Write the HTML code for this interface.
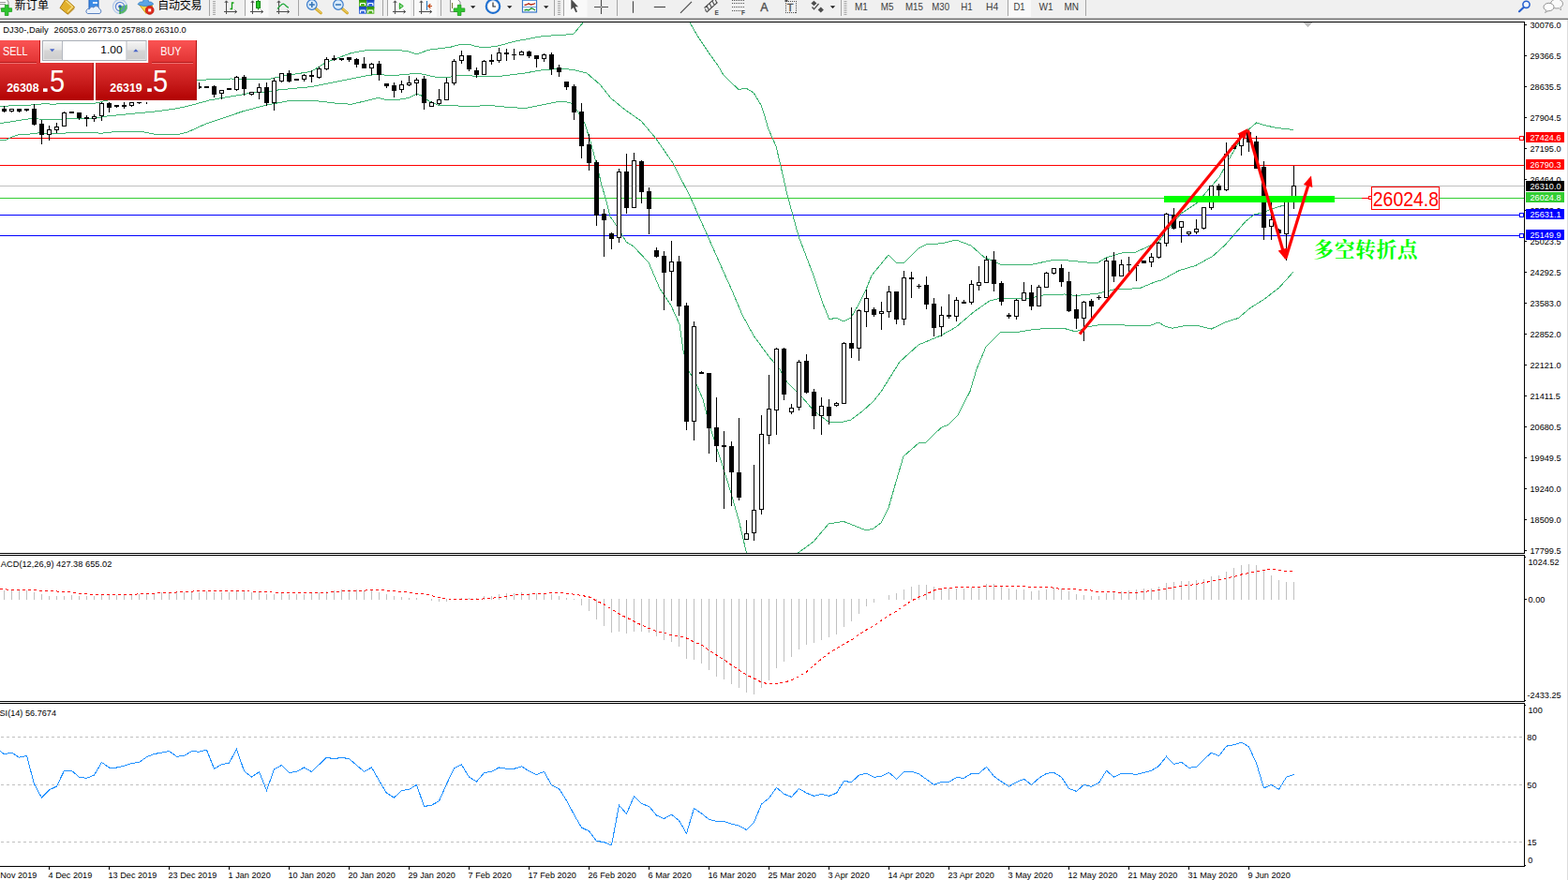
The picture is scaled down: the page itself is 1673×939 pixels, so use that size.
<!DOCTYPE html>
<html><head><meta charset="utf-8"><title>DJ30 Daily</title>
<style>
html,body{margin:0;padding:0;background:#fff;}
body{width:1673px;height:939px;overflow:hidden;font-family:"Liberation Sans",sans-serif;}
svg{display:block;position:absolute;left:0;top:0;}
</style></head><body>
<svg width="1673" height="939" viewBox="0 0 1673 939" font-family="Liberation Sans, sans-serif">
<defs>
<linearGradient id="gr" gradientUnits="userSpaceOnUse" x1="0" y1="43" x2="0" y2="107">
<stop offset="0" stop-color="#fb5454"/><stop offset="0.36" stop-color="#e23434"/><stop offset="0.7" stop-color="#c81c1c"/><stop offset="1" stop-color="#b20202"/></linearGradient>
<linearGradient id="gb" x1="0" y1="0" x2="0" y2="1"><stop offset="0" stop-color="#f4f4f4"/><stop offset="0.45" stop-color="#e4e4e4"/><stop offset="0.5" stop-color="#d6d6d6"/><stop offset="1" stop-color="#cdcdcd"/></linearGradient>
<clipPath id="ct"><rect x="0" y="0" width="1673" height="19"/></clipPath>
<clipPath id="cm"><rect x="0" y="24" width="1626" height="566"/></clipPath>
</defs>
<rect x="0" y="0" width="1673" height="939" fill="#fff" />
<rect x="0" y="0" width="1673" height="19" fill="#f0f0f0" />
<rect x="0" y="19" width="1673" height="1" fill="#b9b9b9" />
<rect x="0" y="20" width="1673" height="1" fill="#6d6d6d" />
<rect x="1672" y="21" width="1" height="918" fill="#dcdcdc" />
<g shape-rendering="crispEdges">
<rect x="0" y="23" width="1627" height="1" fill="#000" />
<rect x="0" y="590" width="1627" height="1" fill="#000" />
<rect x="0" y="592" width="1627" height="1" fill="#000" />
<rect x="0" y="748" width="1627" height="1" fill="#000" />
<rect x="0" y="750" width="1627" height="1" fill="#000" />
<rect x="0" y="924" width="1627" height="1" fill="#000" />
<rect x="1626" y="23" width="1" height="568" fill="#000" />
<rect x="1626" y="592" width="1" height="157" fill="#000" />
<rect x="1626" y="750" width="1" height="175" fill="#000" />
<rect x="1627" y="26" width="2" height="1" fill="#000" />
<rect x="1627" y="59" width="2" height="1" fill="#000" />
<rect x="1627" y="92" width="2" height="1" fill="#000" />
<rect x="1627" y="125" width="2" height="1" fill="#000" />
<rect x="1627" y="158" width="2" height="1" fill="#000" />
<rect x="1627" y="191" width="2" height="1" fill="#000" />
<rect x="1627" y="224" width="2" height="1" fill="#000" />
<rect x="1627" y="257" width="2" height="1" fill="#000" />
<rect x="1627" y="290" width="2" height="1" fill="#000" />
<rect x="1627" y="323" width="2" height="1" fill="#000" />
<rect x="1627" y="356" width="2" height="1" fill="#000" />
<rect x="1627" y="389" width="2" height="1" fill="#000" />
<rect x="1627" y="422" width="2" height="1" fill="#000" />
<rect x="1627" y="455" width="2" height="1" fill="#000" />
<rect x="1627" y="488" width="2" height="1" fill="#000" />
<rect x="1627" y="521" width="2" height="1" fill="#000" />
<rect x="1627" y="554" width="2" height="1" fill="#000" />
<rect x="1627" y="587" width="2" height="1" fill="#000" />
<rect x="1627" y="639" width="2" height="1" fill="#000" />
<rect x="1627" y="594" width="1" height="1" fill="#000" />
<rect x="1627" y="747" width="1" height="1" fill="#000" />
<rect x="1627" y="752" width="1" height="1" fill="#000" />
<rect x="1627" y="923" width="1" height="1" fill="#000" />
<rect x="52" y="925" width="1" height="3" fill="#000" />
<rect x="116" y="925" width="1" height="3" fill="#000" />
<rect x="180" y="925" width="1" height="3" fill="#000" />
<rect x="244" y="925" width="1" height="3" fill="#000" />
<rect x="308" y="925" width="1" height="3" fill="#000" />
<rect x="372" y="925" width="1" height="3" fill="#000" />
<rect x="436" y="925" width="1" height="3" fill="#000" />
<rect x="500" y="925" width="1" height="3" fill="#000" />
<rect x="564" y="925" width="1" height="3" fill="#000" />
<rect x="628" y="925" width="1" height="3" fill="#000" />
<rect x="692" y="925" width="1" height="3" fill="#000" />
<rect x="756" y="925" width="1" height="3" fill="#000" />
<rect x="820" y="925" width="1" height="3" fill="#000" />
<rect x="884" y="925" width="1" height="3" fill="#000" />
<rect x="948" y="925" width="1" height="3" fill="#000" />
<rect x="1012" y="925" width="1" height="3" fill="#000" />
<rect x="1076" y="925" width="1" height="3" fill="#000" />
<rect x="1140" y="925" width="1" height="3" fill="#000" />
<rect x="1204" y="925" width="1" height="3" fill="#000" />
<rect x="1268" y="925" width="1" height="3" fill="#000" />
<rect x="1332" y="925" width="1" height="3" fill="#000" />
</g>
<g shape-rendering="crispEdges">
<rect x="0" y="147" width="1626" height="1" fill="#ff0000" />
<rect x="0" y="176" width="1626" height="1" fill="#ff0000" />
<rect x="0" y="198" width="1626" height="1" fill="#c0c0c0" />
<rect x="0" y="211" width="1626" height="1" fill="#32cd32" />
<rect x="0" y="229" width="1626" height="1" fill="#0000ff" />
<rect x="0" y="251" width="1626" height="1" fill="#0000ff" />
<line x1="1" y1="786.5" x2="1626" y2="786.5" stroke="#c0c0c0" stroke-width="1" stroke-dasharray="3 3"/>
<line x1="1" y1="837.5" x2="1626" y2="837.5" stroke="#c0c0c0" stroke-width="1" stroke-dasharray="3 3"/>
<line x1="1" y1="898.5" x2="1626" y2="898.5" stroke="#c0c0c0" stroke-width="1" stroke-dasharray="3 3"/>
</g>
<polygon points="1391,24 1400,24 1395.5,28.6" fill="#c0c0c0" shape-rendering="crispEdges"/>
<g clip-path="url(#cm)" shape-rendering="crispEdges">
<polyline points="0.0,113.4 36.0,111.9 48.0,110.5 57.0,111.4 65.0,110.4 100.0,110.4 106.0,109.4 110.0,108.0 130.0,104.0 160.0,97.0 190.0,90.0 210.0,85.4 246.0,84.0 287.0,84.5 302.0,81.0 332.0,76.4 348.4,66.2 360.0,62.0 375.0,56.5 392.5,53.4 425.0,53.4 437.0,55.2 444.3,58.0 457.6,53.2 480.0,50.4 491.0,47.5 502.0,47.5 508.4,49.9 520.6,50.4 530.0,49.3 550.0,44.0 580.0,38.4 600.0,37.4 612.0,36.2 623.0,23.0" fill="none" stroke="#3cb371" stroke-width="1" />
<polyline points="735.5,23.0 744.0,38.0 756.0,56.0 766.0,70.0 772.0,80.0 788.0,95.6 796.0,94.0 804.0,99.0 812.0,112.0 816.0,124.0 820.0,138.0 828.0,156.0 833.0,177.0 840.0,208.0 852.0,252.0 868.0,294.0 878.0,324.0 885.0,341.0 892.0,339.0 900.0,343.0 908.0,339.0 916.0,325.0 924.0,309.0 930.0,294.0 948.0,272.0 956.0,280.0 964.0,281.0 980.0,265.0 988.0,261.0 1006.0,259.6 1020.0,256.0 1036.0,262.0 1050.0,274.4 1068.0,282.4 1100.0,282.4 1124.0,277.4 1140.0,278.0 1160.0,280.0 1172.0,280.0 1180.0,275.0 1200.0,269.0 1212.0,269.0 1236.0,258.0 1260.0,228.0 1278.0,216.0 1289.0,202.5 1301.0,189.0 1311.0,170.4 1318.0,158.5 1328.0,142.0 1340.5,131.0 1347.0,133.0 1361.5,136.4 1380.0,138.5" fill="none" stroke="#3cb371" stroke-width="1" />
<polyline points="0.0,131.7 33.5,126.4 41.0,127.0 65.0,127.6 73.0,126.2 101.6,126.2 112.0,124.2 170.0,118.5 190.0,115.5 200.0,113.4 224.0,106.8 271.0,98.7 287.0,97.7 295.5,96.1 332.0,92.6 360.0,87.0 393.5,80.3 404.7,79.3 417.0,80.9 441.0,78.6 448.4,78.6 465.7,82.4 477.0,82.7 489.0,80.6 502.0,80.6 507.4,81.7 530.0,81.7 560.0,78.0 580.0,74.4 600.0,73.4 612.0,74.4 626.0,78.0 640.0,90.0 652.0,105.0 668.0,118.0 684.0,129.0 700.0,148.0 718.0,174.0 724.0,186.0 736.0,209.0 756.0,254.0 772.0,290.0 781.0,310.0 792.0,336.0 804.0,358.0 820.0,380.0 832.0,394.0 840.0,408.0 856.0,424.0 868.0,438.0 884.0,450.0 900.0,450.0 908.0,448.0 920.0,439.0 932.0,428.0 940.0,418.0 960.0,386.0 980.0,368.0 1004.0,358.0 1020.0,349.0 1040.0,332.0 1056.0,321.0 1068.0,318.0 1100.0,318.0 1116.0,314.4 1136.0,314.0 1148.0,315.6 1172.0,313.0 1188.0,309.0 1216.0,307.6 1232.0,301.0 1240.0,298.6 1258.0,288.7 1276.0,283.3 1294.0,273.3 1307.0,261.5 1318.0,249.0 1329.0,236.2 1338.0,229.0 1347.0,227.0 1357.6,222.6 1370.0,219.0 1376.0,215.6 1380.0,214.5" fill="none" stroke="#3cb371" stroke-width="1" />
<polyline points="0.0,150.0 6.0,149.5 12.0,146.4 19.3,143.9 33.5,142.9 40.6,141.9 65.0,142.9 73.0,141.4 101.6,141.4 106.7,142.4 120.0,140.9 152.4,140.6 162.6,142.9 180.0,144.0 190.0,143.6 200.0,141.0 220.0,132.0 260.0,118.5 285.4,111.9 306.7,107.9 321.0,107.4 337.0,107.7 360.0,110.3 375.0,111.3 403.7,104.4 412.8,106.8 423.0,106.8 437.0,104.2 444.3,100.4 448.4,101.2 457.6,107.8 468.7,112.6 487.0,112.6 492.0,113.6 509.4,113.6 514.5,112.6 526.7,112.6 530.0,113.4 560.0,115.6 580.0,111.6 596.0,108.4 604.0,108.6 610.0,110.4 616.0,118.0 624.0,132.0 630.0,151.0 635.0,170.0 638.0,181.0 642.0,198.0 646.0,211.0 651.0,231.0 660.0,244.0 668.0,258.0 676.0,263.0 692.0,280.0 704.0,308.0 716.0,326.0 725.0,346.0 729.0,374.0 735.0,396.0 743.0,410.0 750.0,426.0 758.0,457.0 770.0,494.0 780.0,526.0 788.0,554.0 796.5,590.0" fill="none" stroke="#3cb371" stroke-width="1" />
<polyline points="851.5,590.0 868.0,578.0 884.0,559.0 900.0,556.4 912.0,561.0 924.0,566.0 932.0,564.0 940.0,558.0 948.0,542.0 956.0,514.0 964.0,487.0 980.0,473.0 988.0,472.0 1004.0,456.4 1012.0,453.0 1022.0,443.0 1035.0,417.5 1042.0,394.0 1052.0,370.0 1068.0,354.0 1082.0,355.0 1100.0,352.0 1120.0,350.0 1134.0,350.0 1148.0,354.0 1160.0,349.0 1176.0,346.0 1200.0,347.0 1228.0,347.0 1236.0,344.0 1244.0,348.5 1251.0,350.2 1265.0,347.5 1278.0,347.5 1292.5,351.0 1307.0,344.0 1321.4,339.4 1334.0,328.5 1348.6,319.5 1365.0,306.8 1380.0,290.0" fill="none" stroke="#3cb371" stroke-width="1" />
</g>
<g shape-rendering="crispEdges">
<rect x="4" y="113" width="1" height="7" fill="#000" />
<rect x="2" y="116" width="5" height="3" fill="#000" />
<rect x="12" y="116" width="1" height="4" fill="#000" />
<rect x="10" y="116" width="5" height="3" fill="#000" />
<rect x="11" y="117" width="3" height="1" fill="#fff" />
<rect x="20" y="116" width="1" height="4" fill="#000" />
<rect x="18" y="116" width="5" height="3" fill="#000" />
<rect x="28" y="116" width="1" height="3" fill="#000" />
<rect x="26" y="116" width="5" height="2" fill="#000" />
<rect x="36" y="111" width="1" height="23" fill="#000" />
<rect x="34" y="116" width="5" height="17" fill="#000" />
<rect x="44" y="128" width="1" height="26" fill="#000" />
<rect x="42" y="132" width="5" height="12" fill="#000" />
<rect x="52" y="134" width="1" height="16" fill="#000" />
<rect x="50" y="138" width="5" height="6" fill="#000" />
<rect x="51" y="139" width="3" height="4" fill="#fff" />
<rect x="60" y="131" width="1" height="11" fill="#000" />
<rect x="58" y="135" width="5" height="4" fill="#000" />
<rect x="59" y="136" width="3" height="2" fill="#fff" />
<rect x="68" y="119" width="1" height="16" fill="#000" />
<rect x="66" y="120" width="5" height="15" fill="#000" />
<rect x="67" y="121" width="3" height="13" fill="#fff" />
<rect x="76" y="119" width="1" height="2" fill="#000" />
<rect x="74" y="119" width="5" height="2" fill="#000" />
<rect x="84" y="120" width="1" height="8" fill="#000" />
<rect x="82" y="120" width="5" height="6" fill="#000" />
<rect x="92" y="123" width="1" height="12" fill="#000" />
<rect x="90" y="125" width="5" height="2" fill="#000" />
<rect x="100" y="122" width="1" height="8" fill="#000" />
<rect x="98" y="124" width="5" height="3" fill="#000" />
<rect x="99" y="125" width="3" height="1" fill="#fff" />
<rect x="108" y="109" width="1" height="20" fill="#000" />
<rect x="106" y="110" width="5" height="14" fill="#000" />
<rect x="107" y="111" width="3" height="12" fill="#fff" />
<rect x="116" y="109" width="1" height="11" fill="#000" />
<rect x="114" y="110" width="5" height="5" fill="#000" />
<rect x="124" y="112" width="1" height="3" fill="#000" />
<rect x="122" y="112" width="5" height="2" fill="#000" />
<rect x="132" y="109" width="1" height="7" fill="#000" />
<rect x="130" y="112" width="5" height="2" fill="#000" />
<rect x="140" y="109" width="1" height="5" fill="#000" />
<rect x="138" y="109" width="5" height="4" fill="#000" />
<rect x="139" y="110" width="3" height="2" fill="#fff" />
<rect x="148" y="109" width="1" height="2" fill="#000" />
<rect x="146" y="109" width="5" height="1" fill="#000" />
<rect x="156" y="109" width="1" height="2" fill="#000" />
<rect x="212" y="88" width="1" height="7" fill="#000" />
<rect x="212" y="92" width="3" height="2" fill="#000" />
<rect x="220" y="92" width="1" height="2" fill="#000" />
<rect x="218" y="92" width="5" height="2" fill="#000" />
<rect x="228" y="91" width="1" height="13" fill="#000" />
<rect x="226" y="92" width="5" height="9" fill="#000" />
<rect x="236" y="96" width="1" height="10" fill="#000" />
<rect x="234" y="96" width="5" height="4" fill="#000" />
<rect x="235" y="97" width="3" height="2" fill="#fff" />
<rect x="244" y="94" width="1" height="2" fill="#000" />
<rect x="242" y="94" width="5" height="2" fill="#000" />
<rect x="252" y="81" width="1" height="16" fill="#000" />
<rect x="250" y="82" width="5" height="14" fill="#000" />
<rect x="251" y="83" width="3" height="12" fill="#fff" />
<rect x="260" y="80" width="1" height="22" fill="#000" />
<rect x="258" y="82" width="5" height="13" fill="#000" />
<rect x="268" y="98" width="1" height="4" fill="#000" />
<rect x="266" y="98" width="5" height="3" fill="#000" />
<rect x="267" y="99" width="3" height="1" fill="#fff" />
<rect x="276" y="89" width="1" height="17" fill="#000" />
<rect x="274" y="93" width="5" height="6" fill="#000" />
<rect x="275" y="94" width="3" height="4" fill="#fff" />
<rect x="284" y="88" width="1" height="25" fill="#000" />
<rect x="282" y="93" width="5" height="17" fill="#000" />
<rect x="292" y="83" width="1" height="35" fill="#000" />
<rect x="290" y="86" width="5" height="24" fill="#000" />
<rect x="291" y="87" width="3" height="22" fill="#fff" />
<rect x="300" y="78" width="1" height="10" fill="#000" />
<rect x="298" y="78" width="5" height="9" fill="#000" />
<rect x="299" y="79" width="3" height="7" fill="#fff" />
<rect x="308" y="75" width="1" height="13" fill="#000" />
<rect x="306" y="78" width="5" height="9" fill="#000" />
<rect x="316" y="84" width="1" height="2" fill="#000" />
<rect x="314" y="84" width="5" height="2" fill="#000" />
<rect x="324" y="79" width="1" height="8" fill="#000" />
<rect x="322" y="80" width="5" height="5" fill="#000" />
<rect x="323" y="81" width="3" height="3" fill="#fff" />
<rect x="332" y="75" width="1" height="13" fill="#000" />
<rect x="330" y="80" width="5" height="2" fill="#000" />
<rect x="340" y="71" width="1" height="13" fill="#000" />
<rect x="338" y="73" width="5" height="10" fill="#000" />
<rect x="339" y="74" width="3" height="8" fill="#fff" />
<rect x="348" y="61" width="1" height="14" fill="#000" />
<rect x="346" y="63" width="5" height="11" fill="#000" />
<rect x="347" y="64" width="3" height="9" fill="#fff" />
<rect x="356" y="59" width="1" height="6" fill="#000" />
<rect x="354" y="62" width="5" height="2" fill="#000" />
<rect x="364" y="62" width="1" height="3" fill="#000" />
<rect x="362" y="62" width="5" height="2" fill="#000" />
<rect x="372" y="61" width="1" height="5" fill="#000" />
<rect x="370" y="61" width="5" height="3" fill="#000" />
<rect x="380" y="62" width="1" height="10" fill="#000" />
<rect x="378" y="63" width="5" height="6" fill="#000" />
<rect x="388" y="61" width="1" height="12" fill="#000" />
<rect x="386" y="68" width="5" height="5" fill="#000" />
<rect x="396" y="67" width="1" height="13" fill="#000" />
<rect x="394" y="68" width="5" height="5" fill="#000" />
<rect x="395" y="69" width="3" height="3" fill="#fff" />
<rect x="404" y="65" width="1" height="21" fill="#000" />
<rect x="402" y="68" width="5" height="12" fill="#000" />
<rect x="412" y="89" width="1" height="5" fill="#000" />
<rect x="410" y="89" width="5" height="3" fill="#000" />
<rect x="420" y="88" width="1" height="16" fill="#000" />
<rect x="418" y="91" width="5" height="6" fill="#000" />
<rect x="428" y="86" width="1" height="13" fill="#000" />
<rect x="426" y="90" width="5" height="6" fill="#000" />
<rect x="427" y="91" width="3" height="4" fill="#fff" />
<rect x="436" y="81" width="1" height="11" fill="#000" />
<rect x="434" y="88" width="5" height="3" fill="#000" />
<rect x="435" y="89" width="3" height="1" fill="#fff" />
<rect x="444" y="83" width="1" height="19" fill="#000" />
<rect x="442" y="85" width="5" height="4" fill="#000" />
<rect x="443" y="86" width="3" height="2" fill="#fff" />
<rect x="452" y="81" width="1" height="36" fill="#000" />
<rect x="450" y="84" width="5" height="26" fill="#000" />
<rect x="460" y="108" width="1" height="6" fill="#000" />
<rect x="458" y="109" width="5" height="5" fill="#000" />
<rect x="459" y="110" width="3" height="3" fill="#fff" />
<rect x="468" y="95" width="1" height="17" fill="#000" />
<rect x="466" y="106" width="5" height="5" fill="#000" />
<rect x="467" y="107" width="3" height="3" fill="#fff" />
<rect x="476" y="83" width="1" height="24" fill="#000" />
<rect x="474" y="88" width="5" height="19" fill="#000" />
<rect x="475" y="89" width="3" height="17" fill="#fff" />
<rect x="484" y="63" width="1" height="28" fill="#000" />
<rect x="482" y="65" width="5" height="24" fill="#000" />
<rect x="483" y="66" width="3" height="22" fill="#fff" />
<rect x="492" y="54" width="1" height="14" fill="#000" />
<rect x="490" y="59" width="5" height="6" fill="#000" />
<rect x="491" y="60" width="3" height="4" fill="#fff" />
<rect x="500" y="59" width="1" height="17" fill="#000" />
<rect x="498" y="59" width="5" height="15" fill="#000" />
<rect x="508" y="72" width="1" height="11" fill="#000" />
<rect x="506" y="75" width="5" height="5" fill="#000" />
<rect x="516" y="64" width="1" height="16" fill="#000" />
<rect x="514" y="65" width="5" height="15" fill="#000" />
<rect x="515" y="66" width="3" height="13" fill="#fff" />
<rect x="524" y="58" width="1" height="11" fill="#000" />
<rect x="522" y="64" width="5" height="2" fill="#000" />
<rect x="532" y="51" width="1" height="16" fill="#000" />
<rect x="530" y="56" width="5" height="9" fill="#000" />
<rect x="531" y="57" width="3" height="7" fill="#fff" />
<rect x="540" y="52" width="1" height="13" fill="#000" />
<rect x="538" y="56" width="5" height="2" fill="#000" />
<rect x="548" y="52" width="1" height="12" fill="#000" />
<rect x="546" y="58" width="5" height="1" fill="#000" />
<rect x="556" y="54" width="1" height="5" fill="#000" />
<rect x="554" y="55" width="5" height="4" fill="#000" />
<rect x="555" y="56" width="3" height="2" fill="#fff" />
<rect x="564" y="54" width="1" height="8" fill="#000" />
<rect x="562" y="55" width="5" height="5" fill="#000" />
<rect x="572" y="59" width="1" height="13" fill="#000" />
<rect x="570" y="59" width="5" height="4" fill="#000" />
<rect x="580" y="57" width="1" height="9" fill="#000" />
<rect x="578" y="58" width="5" height="5" fill="#000" />
<rect x="579" y="59" width="3" height="3" fill="#fff" />
<rect x="588" y="56" width="1" height="24" fill="#000" />
<rect x="586" y="58" width="5" height="16" fill="#000" />
<rect x="596" y="69" width="1" height="13" fill="#000" />
<rect x="594" y="72" width="5" height="5" fill="#000" />
<rect x="604" y="87" width="1" height="9" fill="#000" />
<rect x="602" y="87" width="5" height="6" fill="#000" />
<rect x="612" y="90" width="1" height="38" fill="#000" />
<rect x="610" y="92" width="5" height="28" fill="#000" />
<rect x="620" y="110" width="1" height="59" fill="#000" />
<rect x="618" y="119" width="5" height="37" fill="#000" />
<rect x="628" y="143" width="1" height="39" fill="#000" />
<rect x="626" y="154" width="5" height="20" fill="#000" />
<rect x="636" y="171" width="1" height="70" fill="#000" />
<rect x="634" y="173" width="5" height="57" fill="#000" />
<rect x="644" y="223" width="1" height="51" fill="#000" />
<rect x="642" y="228" width="5" height="7" fill="#000" />
<rect x="652" y="248" width="1" height="18" fill="#000" />
<rect x="650" y="249" width="5" height="6" fill="#000" />
<rect x="660" y="180" width="1" height="79" fill="#000" />
<rect x="658" y="183" width="5" height="71" fill="#000" />
<rect x="659" y="184" width="3" height="69" fill="#fff" />
<rect x="668" y="164" width="1" height="64" fill="#000" />
<rect x="666" y="183" width="5" height="39" fill="#000" />
<rect x="676" y="163" width="1" height="58" fill="#000" />
<rect x="674" y="171" width="5" height="51" fill="#000" />
<rect x="675" y="172" width="3" height="49" fill="#fff" />
<rect x="684" y="171" width="1" height="46" fill="#000" />
<rect x="682" y="172" width="5" height="33" fill="#000" />
<rect x="692" y="200" width="1" height="50" fill="#000" />
<rect x="690" y="204" width="5" height="19" fill="#000" />
<rect x="700" y="264" width="1" height="11" fill="#000" />
<rect x="698" y="267" width="5" height="7" fill="#000" />
<rect x="708" y="268" width="1" height="63" fill="#000" />
<rect x="706" y="273" width="5" height="18" fill="#000" />
<rect x="716" y="257" width="1" height="64" fill="#000" />
<rect x="714" y="279" width="5" height="11" fill="#000" />
<rect x="715" y="280" width="3" height="9" fill="#fff" />
<rect x="724" y="273" width="1" height="64" fill="#000" />
<rect x="722" y="279" width="5" height="48" fill="#000" />
<rect x="732" y="323" width="1" height="136" fill="#000" />
<rect x="730" y="326" width="5" height="124" fill="#000" />
<rect x="740" y="343" width="1" height="127" fill="#000" />
<rect x="738" y="348" width="5" height="102" fill="#000" />
<rect x="739" y="349" width="3" height="100" fill="#fff" />
<rect x="748" y="396" width="1" height="3" fill="#000" />
<rect x="746" y="397" width="5" height="2" fill="#000" />
<rect x="756" y="398" width="1" height="86" fill="#000" />
<rect x="754" y="398" width="5" height="59" fill="#000" />
<rect x="764" y="424" width="1" height="69" fill="#000" />
<rect x="762" y="456" width="5" height="20" fill="#000" />
<rect x="772" y="460" width="1" height="83" fill="#000" />
<rect x="770" y="475" width="5" height="2" fill="#000" />
<rect x="780" y="471" width="1" height="69" fill="#000" />
<rect x="778" y="476" width="5" height="28" fill="#000" />
<rect x="788" y="446" width="1" height="88" fill="#000" />
<rect x="786" y="504" width="5" height="27" fill="#000" />
<rect x="796" y="555" width="1" height="20" fill="#000" />
<rect x="794" y="569" width="5" height="7" fill="#000" />
<rect x="795" y="570" width="3" height="5" fill="#fff" />
<rect x="804" y="496" width="1" height="81" fill="#000" />
<rect x="802" y="544" width="5" height="25" fill="#000" />
<rect x="803" y="545" width="3" height="23" fill="#fff" />
<rect x="812" y="443" width="1" height="106" fill="#000" />
<rect x="810" y="463" width="5" height="81" fill="#000" />
<rect x="811" y="464" width="3" height="79" fill="#fff" />
<rect x="820" y="400" width="1" height="74" fill="#000" />
<rect x="818" y="436" width="5" height="29" fill="#000" />
<rect x="819" y="437" width="3" height="27" fill="#fff" />
<rect x="828" y="371" width="1" height="93" fill="#000" />
<rect x="826" y="372" width="5" height="66" fill="#000" />
<rect x="827" y="373" width="3" height="64" fill="#fff" />
<rect x="836" y="371" width="1" height="56" fill="#000" />
<rect x="834" y="372" width="5" height="49" fill="#000" />
<rect x="844" y="431" width="1" height="11" fill="#000" />
<rect x="842" y="435" width="5" height="5" fill="#000" />
<rect x="843" y="436" width="3" height="3" fill="#fff" />
<rect x="852" y="384" width="1" height="54" fill="#000" />
<rect x="850" y="386" width="5" height="49" fill="#000" />
<rect x="851" y="387" width="3" height="47" fill="#fff" />
<rect x="860" y="378" width="1" height="42" fill="#000" />
<rect x="858" y="385" width="5" height="34" fill="#000" />
<rect x="868" y="415" width="1" height="43" fill="#000" />
<rect x="866" y="418" width="5" height="26" fill="#000" />
<rect x="876" y="424" width="1" height="40" fill="#000" />
<rect x="874" y="433" width="5" height="11" fill="#000" />
<rect x="875" y="434" width="3" height="9" fill="#fff" />
<rect x="884" y="426" width="1" height="27" fill="#000" />
<rect x="882" y="434" width="5" height="10" fill="#000" />
<rect x="892" y="429" width="1" height="5" fill="#000" />
<rect x="890" y="430" width="5" height="3" fill="#000" />
<rect x="891" y="431" width="3" height="1" fill="#fff" />
<rect x="900" y="365" width="1" height="65" fill="#000" />
<rect x="898" y="366" width="5" height="65" fill="#000" />
<rect x="899" y="367" width="3" height="63" fill="#fff" />
<rect x="908" y="328" width="1" height="54" fill="#000" />
<rect x="906" y="366" width="5" height="6" fill="#000" />
<rect x="916" y="330" width="1" height="55" fill="#000" />
<rect x="914" y="331" width="5" height="41" fill="#000" />
<rect x="915" y="332" width="3" height="39" fill="#fff" />
<rect x="924" y="309" width="1" height="40" fill="#000" />
<rect x="922" y="318" width="5" height="15" fill="#000" />
<rect x="923" y="319" width="3" height="13" fill="#fff" />
<rect x="932" y="328" width="1" height="10" fill="#000" />
<rect x="930" y="330" width="5" height="6" fill="#000" />
<rect x="940" y="322" width="1" height="30" fill="#000" />
<rect x="938" y="332" width="5" height="3" fill="#000" />
<rect x="939" y="333" width="3" height="1" fill="#fff" />
<rect x="948" y="305" width="1" height="34" fill="#000" />
<rect x="946" y="311" width="5" height="22" fill="#000" />
<rect x="947" y="312" width="3" height="20" fill="#fff" />
<rect x="956" y="311" width="1" height="35" fill="#000" />
<rect x="954" y="311" width="5" height="30" fill="#000" />
<rect x="964" y="289" width="1" height="58" fill="#000" />
<rect x="962" y="296" width="5" height="45" fill="#000" />
<rect x="963" y="297" width="3" height="43" fill="#fff" />
<rect x="972" y="290" width="1" height="28" fill="#000" />
<rect x="970" y="296" width="5" height="2" fill="#000" />
<rect x="980" y="303" width="1" height="5" fill="#000" />
<rect x="978" y="305" width="5" height="1" fill="#000" />
<rect x="988" y="295" width="1" height="35" fill="#000" />
<rect x="986" y="304" width="5" height="21" fill="#000" />
<rect x="996" y="318" width="1" height="41" fill="#000" />
<rect x="994" y="324" width="5" height="26" fill="#000" />
<rect x="1004" y="327" width="1" height="32" fill="#000" />
<rect x="1002" y="336" width="5" height="13" fill="#000" />
<rect x="1003" y="337" width="3" height="11" fill="#fff" />
<rect x="1012" y="314" width="1" height="26" fill="#000" />
<rect x="1010" y="336" width="5" height="2" fill="#000" />
<rect x="1020" y="317" width="1" height="26" fill="#000" />
<rect x="1018" y="320" width="5" height="18" fill="#000" />
<rect x="1019" y="321" width="3" height="16" fill="#fff" />
<rect x="1028" y="320" width="1" height="4" fill="#000" />
<rect x="1026" y="322" width="5" height="2" fill="#000" />
<rect x="1036" y="299" width="1" height="26" fill="#000" />
<rect x="1034" y="303" width="5" height="20" fill="#000" />
<rect x="1035" y="304" width="3" height="18" fill="#fff" />
<rect x="1044" y="284" width="1" height="26" fill="#000" />
<rect x="1042" y="301" width="5" height="4" fill="#000" />
<rect x="1043" y="302" width="3" height="2" fill="#fff" />
<rect x="1052" y="273" width="1" height="29" fill="#000" />
<rect x="1050" y="277" width="5" height="25" fill="#000" />
<rect x="1051" y="278" width="3" height="23" fill="#fff" />
<rect x="1060" y="268" width="1" height="43" fill="#000" />
<rect x="1058" y="277" width="5" height="26" fill="#000" />
<rect x="1068" y="300" width="1" height="26" fill="#000" />
<rect x="1066" y="302" width="5" height="20" fill="#000" />
<rect x="1076" y="334" width="1" height="6" fill="#000" />
<rect x="1074" y="336" width="5" height="2" fill="#000" />
<rect x="1084" y="319" width="1" height="22" fill="#000" />
<rect x="1082" y="320" width="5" height="18" fill="#000" />
<rect x="1083" y="321" width="3" height="16" fill="#fff" />
<rect x="1092" y="301" width="1" height="19" fill="#000" />
<rect x="1090" y="312" width="5" height="9" fill="#000" />
<rect x="1091" y="313" width="3" height="7" fill="#fff" />
<rect x="1100" y="304" width="1" height="27" fill="#000" />
<rect x="1098" y="312" width="5" height="15" fill="#000" />
<rect x="1108" y="304" width="1" height="22" fill="#000" />
<rect x="1106" y="306" width="5" height="21" fill="#000" />
<rect x="1107" y="307" width="3" height="19" fill="#fff" />
<rect x="1116" y="290" width="1" height="16" fill="#000" />
<rect x="1114" y="291" width="5" height="16" fill="#000" />
<rect x="1115" y="292" width="3" height="14" fill="#fff" />
<rect x="1124" y="286" width="1" height="7" fill="#000" />
<rect x="1122" y="286" width="5" height="6" fill="#000" />
<rect x="1123" y="287" width="3" height="4" fill="#fff" />
<rect x="1132" y="282" width="1" height="24" fill="#000" />
<rect x="1130" y="286" width="5" height="15" fill="#000" />
<rect x="1140" y="290" width="1" height="43" fill="#000" />
<rect x="1138" y="300" width="5" height="32" fill="#000" />
<rect x="1148" y="314" width="1" height="37" fill="#000" />
<rect x="1146" y="330" width="5" height="10" fill="#000" />
<rect x="1156" y="321" width="1" height="43" fill="#000" />
<rect x="1154" y="322" width="5" height="18" fill="#000" />
<rect x="1155" y="323" width="3" height="16" fill="#fff" />
<rect x="1164" y="319" width="1" height="21" fill="#000" />
<rect x="1162" y="321" width="5" height="6" fill="#000" />
<rect x="1172" y="315" width="1" height="5" fill="#000" />
<rect x="1170" y="317" width="5" height="1" fill="#000" />
<rect x="1180" y="275" width="1" height="43" fill="#000" />
<rect x="1178" y="278" width="5" height="40" fill="#000" />
<rect x="1179" y="279" width="3" height="38" fill="#fff" />
<rect x="1188" y="269" width="1" height="32" fill="#000" />
<rect x="1186" y="278" width="5" height="17" fill="#000" />
<rect x="1196" y="277" width="1" height="17" fill="#000" />
<rect x="1194" y="282" width="5" height="13" fill="#000" />
<rect x="1195" y="283" width="3" height="11" fill="#fff" />
<rect x="1204" y="274" width="1" height="17" fill="#000" />
<rect x="1202" y="282" width="5" height="1" fill="#000" />
<rect x="1212" y="281" width="1" height="19" fill="#000" />
<rect x="1210" y="283" width="5" height="1" fill="#000" />
<rect x="1220" y="278" width="1" height="2" fill="#000" />
<rect x="1218" y="278" width="5" height="3" fill="#000" />
<rect x="1228" y="270" width="1" height="15" fill="#000" />
<rect x="1226" y="274" width="5" height="6" fill="#000" />
<rect x="1227" y="275" width="3" height="4" fill="#fff" />
<rect x="1236" y="258" width="1" height="18" fill="#000" />
<rect x="1234" y="259" width="5" height="16" fill="#000" />
<rect x="1235" y="260" width="3" height="14" fill="#fff" />
<rect x="1244" y="227" width="1" height="36" fill="#000" />
<rect x="1242" y="228" width="5" height="32" fill="#000" />
<rect x="1243" y="229" width="3" height="30" fill="#fff" />
<rect x="1252" y="222" width="1" height="23" fill="#000" />
<rect x="1250" y="229" width="5" height="15" fill="#000" />
<rect x="1260" y="236" width="1" height="23" fill="#000" />
<rect x="1258" y="236" width="5" height="7" fill="#000" />
<rect x="1259" y="237" width="3" height="5" fill="#fff" />
<rect x="1268" y="247" width="1" height="5" fill="#000" />
<rect x="1266" y="247" width="5" height="3" fill="#000" />
<rect x="1267" y="248" width="3" height="1" fill="#fff" />
<rect x="1276" y="234" width="1" height="16" fill="#000" />
<rect x="1274" y="244" width="5" height="4" fill="#000" />
<rect x="1275" y="245" width="3" height="2" fill="#fff" />
<rect x="1284" y="221" width="1" height="24" fill="#000" />
<rect x="1282" y="221" width="5" height="23" fill="#000" />
<rect x="1283" y="222" width="3" height="21" fill="#fff" />
<rect x="1292" y="198" width="1" height="26" fill="#000" />
<rect x="1290" y="198" width="5" height="24" fill="#000" />
<rect x="1291" y="199" width="3" height="22" fill="#fff" />
<rect x="1300" y="196" width="1" height="13" fill="#000" />
<rect x="1298" y="198" width="5" height="5" fill="#000" />
<rect x="1308" y="152" width="1" height="52" fill="#000" />
<rect x="1306" y="164" width="5" height="39" fill="#000" />
<rect x="1307" y="165" width="3" height="37" fill="#fff" />
<rect x="1316" y="153" width="1" height="6" fill="#000" />
<rect x="1314" y="155" width="5" height="4" fill="#000" />
<rect x="1324" y="141" width="1" height="25" fill="#000" />
<rect x="1322" y="142" width="5" height="14" fill="#000" />
<rect x="1323" y="143" width="3" height="12" fill="#fff" />
<rect x="1332" y="139" width="1" height="23" fill="#000" />
<rect x="1330" y="141" width="5" height="11" fill="#000" />
<rect x="1340" y="145" width="1" height="35" fill="#000" />
<rect x="1338" y="151" width="5" height="29" fill="#000" />
<rect x="1348" y="172" width="1" height="84" fill="#000" />
<rect x="1346" y="178" width="5" height="65" fill="#000" />
<rect x="1356" y="216" width="1" height="40" fill="#000" />
<rect x="1354" y="234" width="5" height="8" fill="#000" />
<rect x="1355" y="235" width="3" height="6" fill="#fff" />
<rect x="1364" y="244" width="1" height="5" fill="#000" />
<rect x="1362" y="245" width="5" height="4" fill="#000" />
<rect x="1372" y="214" width="1" height="64" fill="#000" />
<rect x="1370" y="214" width="5" height="36" fill="#000" />
<rect x="1371" y="215" width="3" height="34" fill="#fff" />
<rect x="1380" y="177" width="1" height="46" fill="#000" />
<rect x="1378" y="198" width="5" height="13" fill="#000" />
<rect x="1379" y="199" width="3" height="11" fill="#fff" />
</g>
<g shape-rendering="crispEdges">
<rect x="4" y="630" width="1" height="10" fill="#c0c0c0" />
<rect x="12" y="630" width="1" height="10" fill="#c0c0c0" />
<rect x="20" y="630" width="1" height="10" fill="#c0c0c0" />
<rect x="28" y="630" width="1" height="10" fill="#c0c0c0" />
<rect x="36" y="632" width="1" height="8" fill="#c0c0c0" />
<rect x="44" y="634" width="1" height="6" fill="#c0c0c0" />
<rect x="52" y="636" width="1" height="4" fill="#c0c0c0" />
<rect x="60" y="636" width="1" height="4" fill="#c0c0c0" />
<rect x="68" y="636" width="1" height="4" fill="#c0c0c0" />
<rect x="76" y="635" width="1" height="5" fill="#c0c0c0" />
<rect x="84" y="636" width="1" height="4" fill="#c0c0c0" />
<rect x="92" y="636" width="1" height="4" fill="#c0c0c0" />
<rect x="100" y="636" width="1" height="4" fill="#c0c0c0" />
<rect x="108" y="635" width="1" height="5" fill="#c0c0c0" />
<rect x="116" y="635" width="1" height="5" fill="#c0c0c0" />
<rect x="124" y="635" width="1" height="5" fill="#c0c0c0" />
<rect x="132" y="635" width="1" height="5" fill="#c0c0c0" />
<rect x="140" y="635" width="1" height="5" fill="#c0c0c0" />
<rect x="148" y="634" width="1" height="6" fill="#c0c0c0" />
<rect x="156" y="634" width="1" height="6" fill="#c0c0c0" />
<rect x="164" y="634" width="1" height="6" fill="#c0c0c0" />
<rect x="172" y="632" width="1" height="8" fill="#c0c0c0" />
<rect x="180" y="632" width="1" height="8" fill="#c0c0c0" />
<rect x="188" y="632" width="1" height="8" fill="#c0c0c0" />
<rect x="196" y="632" width="1" height="8" fill="#c0c0c0" />
<rect x="204" y="632" width="1" height="8" fill="#c0c0c0" />
<rect x="212" y="632" width="1" height="8" fill="#c0c0c0" />
<rect x="220" y="631" width="1" height="9" fill="#c0c0c0" />
<rect x="228" y="632" width="1" height="8" fill="#c0c0c0" />
<rect x="236" y="632" width="1" height="8" fill="#c0c0c0" />
<rect x="244" y="632" width="1" height="8" fill="#c0c0c0" />
<rect x="252" y="631" width="1" height="9" fill="#c0c0c0" />
<rect x="260" y="631" width="1" height="9" fill="#c0c0c0" />
<rect x="268" y="632" width="1" height="8" fill="#c0c0c0" />
<rect x="276" y="632" width="1" height="8" fill="#c0c0c0" />
<rect x="284" y="634" width="1" height="6" fill="#c0c0c0" />
<rect x="292" y="634" width="1" height="6" fill="#c0c0c0" />
<rect x="300" y="633" width="1" height="7" fill="#c0c0c0" />
<rect x="308" y="634" width="1" height="6" fill="#c0c0c0" />
<rect x="316" y="634" width="1" height="6" fill="#c0c0c0" />
<rect x="324" y="634" width="1" height="6" fill="#c0c0c0" />
<rect x="332" y="632" width="1" height="8" fill="#c0c0c0" />
<rect x="340" y="632" width="1" height="8" fill="#c0c0c0" />
<rect x="348" y="631" width="1" height="9" fill="#c0c0c0" />
<rect x="356" y="630" width="1" height="10" fill="#c0c0c0" />
<rect x="364" y="629" width="1" height="11" fill="#c0c0c0" />
<rect x="372" y="629" width="1" height="11" fill="#c0c0c0" />
<rect x="380" y="629" width="1" height="11" fill="#c0c0c0" />
<rect x="388" y="630" width="1" height="10" fill="#c0c0c0" />
<rect x="396" y="630" width="1" height="10" fill="#c0c0c0" />
<rect x="404" y="632" width="1" height="8" fill="#c0c0c0" />
<rect x="412" y="634" width="1" height="6" fill="#c0c0c0" />
<rect x="420" y="636" width="1" height="4" fill="#c0c0c0" />
<rect x="428" y="637" width="1" height="3" fill="#c0c0c0" />
<rect x="436" y="638" width="1" height="2" fill="#c0c0c0" />
<rect x="444" y="638" width="1" height="2" fill="#c0c0c0" />
<rect x="460" y="639" width="1" height="2" fill="#c0c0c0" />
<rect x="468" y="639" width="1" height="3" fill="#c0c0c0" />
<rect x="476" y="639" width="1" height="3" fill="#c0c0c0" />
<rect x="484" y="639" width="1" height="1" fill="#c0c0c0" />
<rect x="492" y="638" width="1" height="2" fill="#c0c0c0" />
<rect x="500" y="638" width="1" height="2" fill="#c0c0c0" />
<rect x="508" y="638" width="1" height="2" fill="#c0c0c0" />
<rect x="516" y="636" width="1" height="4" fill="#c0c0c0" />
<rect x="524" y="636" width="1" height="4" fill="#c0c0c0" />
<rect x="532" y="634" width="1" height="6" fill="#c0c0c0" />
<rect x="540" y="633" width="1" height="7" fill="#c0c0c0" />
<rect x="548" y="633" width="1" height="7" fill="#c0c0c0" />
<rect x="556" y="632" width="1" height="8" fill="#c0c0c0" />
<rect x="564" y="633" width="1" height="7" fill="#c0c0c0" />
<rect x="572" y="633" width="1" height="7" fill="#c0c0c0" />
<rect x="580" y="633" width="1" height="7" fill="#c0c0c0" />
<rect x="588" y="634" width="1" height="6" fill="#c0c0c0" />
<rect x="596" y="636" width="1" height="4" fill="#c0c0c0" />
<rect x="604" y="638" width="1" height="2" fill="#c0c0c0" />
<rect x="612" y="639" width="1" height="1" fill="#c0c0c0" />
<rect x="620" y="639" width="1" height="7" fill="#c0c0c0" />
<rect x="628" y="639" width="1" height="13" fill="#c0c0c0" />
<rect x="636" y="639" width="1" height="22" fill="#c0c0c0" />
<rect x="644" y="639" width="1" height="29" fill="#c0c0c0" />
<rect x="652" y="639" width="1" height="36" fill="#c0c0c0" />
<rect x="660" y="639" width="1" height="35" fill="#c0c0c0" />
<rect x="668" y="639" width="1" height="37" fill="#c0c0c0" />
<rect x="676" y="639" width="1" height="35" fill="#c0c0c0" />
<rect x="684" y="639" width="1" height="35" fill="#c0c0c0" />
<rect x="692" y="639" width="1" height="36" fill="#c0c0c0" />
<rect x="700" y="639" width="1" height="40" fill="#c0c0c0" />
<rect x="708" y="639" width="1" height="44" fill="#c0c0c0" />
<rect x="716" y="639" width="1" height="46" fill="#c0c0c0" />
<rect x="724" y="639" width="1" height="51" fill="#c0c0c0" />
<rect x="732" y="639" width="1" height="64" fill="#c0c0c0" />
<rect x="740" y="639" width="1" height="65" fill="#c0c0c0" />
<rect x="748" y="639" width="1" height="69" fill="#c0c0c0" />
<rect x="756" y="639" width="1" height="76" fill="#c0c0c0" />
<rect x="764" y="639" width="1" height="83" fill="#c0c0c0" />
<rect x="772" y="639" width="1" height="86" fill="#c0c0c0" />
<rect x="780" y="639" width="1" height="91" fill="#c0c0c0" />
<rect x="788" y="639" width="1" height="95" fill="#c0c0c0" />
<rect x="796" y="639" width="1" height="100" fill="#c0c0c0" />
<rect x="804" y="639" width="1" height="102" fill="#c0c0c0" />
<rect x="812" y="639" width="1" height="95" fill="#c0c0c0" />
<rect x="820" y="639" width="1" height="87" fill="#c0c0c0" />
<rect x="828" y="639" width="1" height="74" fill="#c0c0c0" />
<rect x="836" y="639" width="1" height="67" fill="#c0c0c0" />
<rect x="844" y="639" width="1" height="62" fill="#c0c0c0" />
<rect x="852" y="639" width="1" height="54" fill="#c0c0c0" />
<rect x="860" y="639" width="1" height="49" fill="#c0c0c0" />
<rect x="868" y="639" width="1" height="47" fill="#c0c0c0" />
<rect x="876" y="639" width="1" height="44" fill="#c0c0c0" />
<rect x="884" y="639" width="1" height="41" fill="#c0c0c0" />
<rect x="892" y="639" width="1" height="38" fill="#c0c0c0" />
<rect x="900" y="639" width="1" height="30" fill="#c0c0c0" />
<rect x="908" y="639" width="1" height="24" fill="#c0c0c0" />
<rect x="916" y="639" width="1" height="16" fill="#c0c0c0" />
<rect x="924" y="639" width="1" height="8" fill="#c0c0c0" />
<rect x="932" y="639" width="1" height="4" fill="#c0c0c0" />
<rect x="948" y="635" width="1" height="5" fill="#c0c0c0" />
<rect x="956" y="633" width="1" height="7" fill="#c0c0c0" />
<rect x="964" y="629" width="1" height="11" fill="#c0c0c0" />
<rect x="972" y="626" width="1" height="14" fill="#c0c0c0" />
<rect x="980" y="624" width="1" height="16" fill="#c0c0c0" />
<rect x="988" y="624" width="1" height="16" fill="#c0c0c0" />
<rect x="996" y="626" width="1" height="14" fill="#c0c0c0" />
<rect x="1004" y="628" width="1" height="12" fill="#c0c0c0" />
<rect x="1012" y="628" width="1" height="12" fill="#c0c0c0" />
<rect x="1020" y="628" width="1" height="12" fill="#c0c0c0" />
<rect x="1028" y="628" width="1" height="12" fill="#c0c0c0" />
<rect x="1036" y="627" width="1" height="13" fill="#c0c0c0" />
<rect x="1044" y="626" width="1" height="14" fill="#c0c0c0" />
<rect x="1052" y="623" width="1" height="17" fill="#c0c0c0" />
<rect x="1060" y="623" width="1" height="17" fill="#c0c0c0" />
<rect x="1068" y="625" width="1" height="15" fill="#c0c0c0" />
<rect x="1076" y="628" width="1" height="12" fill="#c0c0c0" />
<rect x="1084" y="629" width="1" height="11" fill="#c0c0c0" />
<rect x="1092" y="629" width="1" height="11" fill="#c0c0c0" />
<rect x="1100" y="631" width="1" height="9" fill="#c0c0c0" />
<rect x="1108" y="630" width="1" height="10" fill="#c0c0c0" />
<rect x="1116" y="629" width="1" height="11" fill="#c0c0c0" />
<rect x="1124" y="627" width="1" height="13" fill="#c0c0c0" />
<rect x="1132" y="628" width="1" height="12" fill="#c0c0c0" />
<rect x="1140" y="631" width="1" height="9" fill="#c0c0c0" />
<rect x="1148" y="634" width="1" height="6" fill="#c0c0c0" />
<rect x="1156" y="635" width="1" height="5" fill="#c0c0c0" />
<rect x="1164" y="636" width="1" height="4" fill="#c0c0c0" />
<rect x="1172" y="636" width="1" height="4" fill="#c0c0c0" />
<rect x="1180" y="633" width="1" height="7" fill="#c0c0c0" />
<rect x="1188" y="632" width="1" height="8" fill="#c0c0c0" />
<rect x="1196" y="631" width="1" height="9" fill="#c0c0c0" />
<rect x="1204" y="630" width="1" height="10" fill="#c0c0c0" />
<rect x="1212" y="629" width="1" height="11" fill="#c0c0c0" />
<rect x="1220" y="628" width="1" height="12" fill="#c0c0c0" />
<rect x="1228" y="628" width="1" height="12" fill="#c0c0c0" />
<rect x="1236" y="626" width="1" height="14" fill="#c0c0c0" />
<rect x="1244" y="622" width="1" height="18" fill="#c0c0c0" />
<rect x="1252" y="621" width="1" height="19" fill="#c0c0c0" />
<rect x="1260" y="620" width="1" height="20" fill="#c0c0c0" />
<rect x="1268" y="620" width="1" height="20" fill="#c0c0c0" />
<rect x="1276" y="619" width="1" height="21" fill="#c0c0c0" />
<rect x="1284" y="618" width="1" height="22" fill="#c0c0c0" />
<rect x="1292" y="615" width="1" height="25" fill="#c0c0c0" />
<rect x="1300" y="614" width="1" height="26" fill="#c0c0c0" />
<rect x="1308" y="610" width="1" height="30" fill="#c0c0c0" />
<rect x="1316" y="606" width="1" height="34" fill="#c0c0c0" />
<rect x="1324" y="603" width="1" height="37" fill="#c0c0c0" />
<rect x="1332" y="602" width="1" height="38" fill="#c0c0c0" />
<rect x="1340" y="603" width="1" height="37" fill="#c0c0c0" />
<rect x="1348" y="609" width="1" height="31" fill="#c0c0c0" />
<rect x="1356" y="614" width="1" height="26" fill="#c0c0c0" />
<rect x="1364" y="619" width="1" height="21" fill="#c0c0c0" />
<rect x="1372" y="621" width="1" height="19" fill="#c0c0c0" />
<rect x="1380" y="621" width="1" height="19" fill="#c0c0c0" />
</g>
<polyline points="0.5,628.6 12.5,629.4 40.5,630.0 60.5,631.0 74.5,632.0 84.5,633.4 100.5,634.4 140.5,634.4 152.5,633.6 176.5,632.6 200.5,631.4 220.5,630.0 260.5,630.0 268.5,631.4 290.5,632.0 330.5,632.6 350.5,632.0 370.5,630.4 390.5,630.0 398.5,629.2 406.5,629.2 414.5,630.4 430.5,631.4 442.5,633.0 458.5,634.6 466.5,637.6 482.5,639.4 510.5,639.4 522.5,638.4 534.5,637.4 542.5,636.0 554.5,634.4 580.5,633.4 590.5,632.4 598.5,632.4 606.5,633.4 620.5,635.4 628.5,637.0 636.5,641.0 644.5,645.0 652.5,650.0 660.5,655.0 668.5,659.0 676.5,663.0 684.5,667.0 692.5,670.6 700.5,673.4 708.5,675.4 716.5,677.6 724.5,678.6 732.5,681.0 740.5,685.0 748.5,688.0 756.5,694.0 764.5,699.0 772.5,704.0 780.5,709.6 788.5,715.0 796.5,720.0 804.5,724.0 812.5,728.0 820.5,730.0 828.5,729.6 836.5,728.4 844.5,725.6 852.5,721.6 860.5,717.0 868.5,710.0 876.5,703.0 884.5,697.0 892.5,692.0 900.5,687.0 908.5,683.0 916.5,677.0 924.5,672.0 932.5,667.6 940.5,662.0 948.5,656.6 956.5,652.0 964.5,646.4 972.5,641.0 980.5,637.0 988.5,634.0 996.5,630.0 1004.5,628.0 1012.5,627.6 1020.5,626.4 1044.5,626.4 1052.5,625.4 1092.5,625.4 1100.5,626.4 1120.5,626.6 1128.5,628.0 1140.5,628.6 1160.5,629.4 1170.5,631.2 1188.5,631.6 1200.5,632.6 1212.5,632.4 1220.5,631.4 1228.5,630.4 1236.5,629.4 1244.5,628.4 1252.5,626.4 1260.5,625.4 1268.5,624.4 1276.5,623.4 1284.5,621.6 1292.5,620.4 1300.5,618.4 1308.5,617.0 1316.5,615.4 1324.5,613.0 1332.5,611.6 1340.5,609.4 1348.5,608.4 1356.5,607.4 1364.5,608.4 1372.5,609.6 1380.5,609.6" fill="none" stroke="#ff0000" stroke-width="1" stroke-dasharray="3 3" stroke-dashoffset="0.5" shape-rendering="crispEdges"/>
<polyline points="0.0,801.5 4.5,804.7 12.5,803.2 20.5,808.2 28.5,806.5 36.5,836.6 44.5,851.2 52.5,842.9 60.5,839.1 68.5,822.3 76.5,822.3 84.5,829.3 92.5,830.3 100.5,827.1 108.5,813.5 116.5,819.0 124.5,819.0 132.5,817.3 140.5,814.5 148.5,813.5 156.5,807.7 164.5,804.5 172.5,803.2 180.5,801.5 188.5,807.2 196.5,806.5 204.5,801.5 212.5,802.2 220.5,800.2 228.5,820.3 236.5,815.8 244.5,814.0 252.5,799.5 260.5,822.8 268.5,829.1 276.5,823.6 284.5,843.4 292.5,821.0 300.5,816.5 308.5,824.6 316.5,823.3 324.5,819.0 332.5,823.6 340.5,815.8 348.5,808.2 356.5,809.8 364.5,808.2 372.5,809.8 380.5,816.5 388.5,823.3 396.5,819.0 404.5,832.9 412.5,846.2 420.5,851.2 428.5,843.4 436.5,842.4 444.5,837.4 452.5,860.5 460.5,859.2 468.5,854.7 476.5,836.6 484.5,819.8 492.5,816.0 500.5,829.1 508.5,834.1 516.5,824.6 524.5,823.3 532.5,819.0 540.5,820.3 548.5,820.3 556.5,817.8 564.5,822.8 572.5,826.6 580.5,823.3 588.5,837.9 596.5,841.6 604.5,854.2 612.5,869.3 620.5,883.1 628.5,886.8 636.5,897.4 644.5,898.6 652.5,901.9 660.5,859.2 668.5,868.5 676.5,849.7 684.5,857.5 692.5,860.5 700.5,870.0 708.5,873.5 716.5,869.3 724.5,875.5 732.5,889.3 740.5,862.5 748.5,868.0 756.5,874.3 764.5,876.3 772.5,876.3 780.5,879.3 788.5,881.1 796.5,885.6 804.5,877.5 812.5,858.0 820.5,851.7 828.5,840.4 836.5,847.2 844.5,850.4 852.5,841.6 860.5,846.2 868.5,849.4 876.5,847.4 884.5,849.4 892.5,846.2 900.5,833.4 908.5,834.6 916.5,827.1 924.5,825.3 932.5,829.3 940.5,828.3 948.5,824.3 956.5,831.3 964.5,823.3 972.5,823.3 980.5,825.8 988.5,831.6 996.5,837.4 1004.5,834.4 1012.5,834.4 1020.5,829.6 1028.5,830.3 1036.5,825.3 1044.5,825.3 1052.5,818.3 1060.5,828.3 1068.5,834.1 1076.5,839.1 1084.5,834.6 1092.5,831.3 1100.5,837.4 1108.5,830.3 1116.5,825.3 1124.5,824.3 1132.5,829.3 1140.5,841.4 1148.5,844.4 1156.5,837.4 1164.5,839.4 1172.5,835.4 1180.5,822.3 1188.5,829.1 1196.5,825.3 1204.5,825.3 1212.5,826.5 1220.5,824.3 1228.5,822.3 1236.5,817.3 1244.5,807.2 1252.5,815.3 1260.5,813.3 1268.5,819.3 1276.5,818.3 1284.5,810.3 1292.5,803.2 1300.5,806.7 1308.5,796.2 1316.5,794.7 1324.5,792.2 1332.5,796.7 1340.5,814.3 1348.5,840.9 1356.5,837.4 1364.5,842.4 1372.5,829.3 1380.5,826.3" fill="none" stroke="#1e90ff" stroke-width="1" shape-rendering="crispEdges"/>
<rect x="1242" y="209" width="182" height="7" fill="#00ff00" shape-rendering="crispEdges"/>
<line x1="1152.0" y1="356.5" x2="1329.1" y2="140.1" stroke="#ff0000" stroke-width="3.2"/><polygon points="1331.6,137.0 1328.2,149.1 1320.4,142.7" fill="#ff0000"/>
<line x1="1331.5" y1="139.0" x2="1370.6" y2="273.2" stroke="#ff0000" stroke-width="3.2"/><polygon points="1371.7,277.0 1363.7,267.4 1373.3,264.6" fill="#ff0000"/>
<line x1="1371.7" y1="276.0" x2="1397.8" y2="191.3" stroke="#ff0000" stroke-width="3.2"/><polygon points="1399.0,187.5 1400.4,200.0 1390.8,197.0" fill="#ff0000"/>
<g shape-rendering="crispEdges">
<rect x="1453" y="211" width="8" height="1" fill="#ff0000" />
<rect x="1460.5" y="209.5" width="3" height="3" fill="#fff" stroke="#ff0000" stroke-width="1"/>
<rect x="1463.5" y="199.5" width="72" height="24" fill="#fff" stroke="#ff0000" stroke-width="1"/>
</g>
<text transform="translate(1464.8,219.8) scale(0.865,1)" font-size="22.5" fill="#ff0000" text-anchor="start" >26024.8</text>
<text x="1401.5" y="274" font-size="21.6" font-weight="bold" letter-spacing="0.8" fill="#00ff00" font-family="'Liberation Serif', 'Noto Serif CJK SC', serif">多空转折点</text>
<g font-family="Liberation Sans, sans-serif">
<text transform="translate(1632.5,29.6) scale(0.984,1)" font-size="9.3" fill="#000" text-anchor="start" >30076.0</text>
<text transform="translate(1632.5,62.6) scale(0.984,1)" font-size="9.3" fill="#000" text-anchor="start" >29366.5</text>
<text transform="translate(1632.5,95.6) scale(0.984,1)" font-size="9.3" fill="#000" text-anchor="start" >28635.5</text>
<text transform="translate(1632.5,128.6) scale(0.984,1)" font-size="9.3" fill="#000" text-anchor="start" >27904.5</text>
<text transform="translate(1632.5,161.6) scale(0.984,1)" font-size="9.3" fill="#000" text-anchor="start" >27195.0</text>
<text transform="translate(1632.5,194.6) scale(0.984,1)" font-size="9.3" fill="#000" text-anchor="start" >26464.0</text>
<text transform="translate(1632.5,227.6) scale(0.984,1)" font-size="9.3" fill="#000" text-anchor="start" >25733.0</text>
<text transform="translate(1632.5,260.6) scale(0.984,1)" font-size="9.3" fill="#000" text-anchor="start" >25023.5</text>
<text transform="translate(1632.5,293.6) scale(0.984,1)" font-size="9.3" fill="#000" text-anchor="start" >24292.5</text>
<text transform="translate(1632.5,326.6) scale(0.984,1)" font-size="9.3" fill="#000" text-anchor="start" >23583.0</text>
<text transform="translate(1632.5,359.6) scale(0.984,1)" font-size="9.3" fill="#000" text-anchor="start" >22852.0</text>
<text transform="translate(1632.5,392.6) scale(0.984,1)" font-size="9.3" fill="#000" text-anchor="start" >22121.0</text>
<text transform="translate(1632.5,425.6) scale(0.984,1)" font-size="9.3" fill="#000" text-anchor="start" >21411.5</text>
<text transform="translate(1632.5,458.6) scale(0.984,1)" font-size="9.3" fill="#000" text-anchor="start" >20680.5</text>
<text transform="translate(1632.5,491.6) scale(0.984,1)" font-size="9.3" fill="#000" text-anchor="start" >19949.5</text>
<text transform="translate(1632.5,524.6) scale(0.984,1)" font-size="9.3" fill="#000" text-anchor="start" >19240.0</text>
<text transform="translate(1632.5,557.6) scale(0.984,1)" font-size="9.3" fill="#000" text-anchor="start" >18509.0</text>
<text transform="translate(1632.5,590.6) scale(0.984,1)" font-size="9.3" fill="#000" text-anchor="start" >17799.5</text>
<text transform="translate(1630.5,602.6) scale(0.984,1)" font-size="9.3" fill="#000" text-anchor="start" >1024.52</text>
<text transform="translate(1630.5,642.6) scale(0.984,1)" font-size="9.3" fill="#000" text-anchor="start" >0.00</text>
<text transform="translate(1629.5,744.6) scale(0.984,1)" font-size="9.3" fill="#000" text-anchor="start" >-2433.25</text>
<text transform="translate(1630.5,760.6) scale(0.984,1)" font-size="9.3" fill="#000" text-anchor="start" >100</text>
<text transform="translate(1629.3,789.6) scale(0.984,1)" font-size="9.3" fill="#000" text-anchor="start" >80</text>
<text transform="translate(1629.3,840.6) scale(0.984,1)" font-size="9.3" fill="#000" text-anchor="start" >50</text>
<text transform="translate(1629.5,901.6) scale(0.984,1)" font-size="9.3" fill="#000" text-anchor="start" >15</text>
<text transform="translate(1630.3,920.6) scale(0.984,1)" font-size="9.3" fill="#000" text-anchor="start" >0</text>
<rect x="1628" y="141" width="41" height="11" fill="#ff0000" shape-rendering="crispEdges"/><rect x="1621.5" y="145.5" width="4" height="4" fill="#fff" stroke="#ff0000" stroke-width="1" shape-rendering="crispEdges"/><text transform="translate(1632.5,149.7) scale(0.984,1)" font-size="9.3" fill="#fff" text-anchor="start" >27424.6</text>
<rect x="1628" y="170" width="41" height="11" fill="#ff0000" shape-rendering="crispEdges"/><text transform="translate(1632.5,178.7) scale(0.984,1)" font-size="9.3" fill="#fff" text-anchor="start" >26790.3</text>
<rect x="1628" y="193" width="41" height="11" fill="#000000" shape-rendering="crispEdges"/><text transform="translate(1632.5,201.7) scale(0.984,1)" font-size="9.3" fill="#fff" text-anchor="start" >26310.0</text>
<rect x="1628" y="205" width="41" height="11" fill="#32cd32" shape-rendering="crispEdges"/><text transform="translate(1632.5,213.7) scale(0.984,1)" font-size="9.3" fill="#fff" text-anchor="start" >26024.8</text>
<rect x="1628" y="223" width="41" height="11" fill="#0000ff" shape-rendering="crispEdges"/><rect x="1621.5" y="227.5" width="4" height="4" fill="#fff" stroke="#0000ff" stroke-width="1" shape-rendering="crispEdges"/><text transform="translate(1632.5,231.7) scale(0.984,1)" font-size="9.3" fill="#fff" text-anchor="start" >25631.1</text>
<rect x="1628" y="245" width="41" height="11" fill="#0000ff" shape-rendering="crispEdges"/><rect x="1621.5" y="249.5" width="4" height="4" fill="#fff" stroke="#0000ff" stroke-width="1" shape-rendering="crispEdges"/><text transform="translate(1632.5,253.7) scale(0.984,1)" font-size="9.3" fill="#fff" text-anchor="start" >25149.9</text>
<text transform="translate(-12.5,936.5) scale(0.984,1)" font-size="9.3" fill="#000" text-anchor="start" >25 Nov 2019</text>
<text transform="translate(51.5,936.5) scale(0.984,1)" font-size="9.3" fill="#000" text-anchor="start" >4 Dec 2019</text>
<text transform="translate(115.5,936.5) scale(0.984,1)" font-size="9.3" fill="#000" text-anchor="start" >13 Dec 2019</text>
<text transform="translate(179.5,936.5) scale(0.984,1)" font-size="9.3" fill="#000" text-anchor="start" >23 Dec 2019</text>
<text transform="translate(243.5,936.5) scale(0.984,1)" font-size="9.3" fill="#000" text-anchor="start" >1 Jan 2020</text>
<text transform="translate(307.5,936.5) scale(0.984,1)" font-size="9.3" fill="#000" text-anchor="start" >10 Jan 2020</text>
<text transform="translate(371.5,936.5) scale(0.984,1)" font-size="9.3" fill="#000" text-anchor="start" >20 Jan 2020</text>
<text transform="translate(435.5,936.5) scale(0.984,1)" font-size="9.3" fill="#000" text-anchor="start" >29 Jan 2020</text>
<text transform="translate(499.5,936.5) scale(0.984,1)" font-size="9.3" fill="#000" text-anchor="start" >7 Feb 2020</text>
<text transform="translate(563.5,936.5) scale(0.984,1)" font-size="9.3" fill="#000" text-anchor="start" >17 Feb 2020</text>
<text transform="translate(627.5,936.5) scale(0.984,1)" font-size="9.3" fill="#000" text-anchor="start" >26 Feb 2020</text>
<text transform="translate(691.5,936.5) scale(0.984,1)" font-size="9.3" fill="#000" text-anchor="start" >6 Mar 2020</text>
<text transform="translate(755.5,936.5) scale(0.984,1)" font-size="9.3" fill="#000" text-anchor="start" >16 Mar 2020</text>
<text transform="translate(819.5,936.5) scale(0.984,1)" font-size="9.3" fill="#000" text-anchor="start" >25 Mar 2020</text>
<text transform="translate(883.5,936.5) scale(0.984,1)" font-size="9.3" fill="#000" text-anchor="start" >3 Apr 2020</text>
<text transform="translate(947.5,936.5) scale(0.984,1)" font-size="9.3" fill="#000" text-anchor="start" >14 Apr 2020</text>
<text transform="translate(1011.5,936.5) scale(0.984,1)" font-size="9.3" fill="#000" text-anchor="start" >23 Apr 2020</text>
<text transform="translate(1075.5,936.5) scale(0.984,1)" font-size="9.3" fill="#000" text-anchor="start" >3 May 2020</text>
<text transform="translate(1139.5,936.5) scale(0.984,1)" font-size="9.3" fill="#000" text-anchor="start" >12 May 2020</text>
<text transform="translate(1203.5,936.5) scale(0.984,1)" font-size="9.3" fill="#000" text-anchor="start" >21 May 2020</text>
<text transform="translate(1267.5,936.5) scale(0.984,1)" font-size="9.3" fill="#000" text-anchor="start" >31 May 2020</text>
<text transform="translate(1331.5,936.5) scale(0.984,1)" font-size="9.3" fill="#000" text-anchor="start" >9 Jun 2020</text>
<text x="3.3" y="34.9" font-size="9.3" textLength="48.4" lengthAdjust="spacingAndGlyphs">DJ30-,Daily</text>
<text x="57.6" y="34.9" font-size="9.3" textLength="141" lengthAdjust="spacingAndGlyphs">26053.0 26773.0 25788.0 26310.0</text>
<text x="0.8" y="605" font-size="9.3" textLength="118.6" lengthAdjust="spacingAndGlyphs">ACD(12,26,9) 427.38 655.02</text>
<text transform="translate(60,763.5) scale(0.984,1)" font-size="9.3" fill="#000" text-anchor="end" >RSI(14) 56.7674</text>
</g>
<g font-family="Liberation Sans, sans-serif">
<rect x="0" y="43" width="210" height="64" fill="#fff" />
<rect x="0" y="43" width="43" height="24.5" fill="url(#gr)" />
<rect x="158" y="43" width="52" height="24.5" fill="url(#gr)" />
<rect x="0" y="67" width="100" height="40" fill="url(#gr)" />
<rect x="102" y="67" width="108" height="40" fill="url(#gr)" />
<rect x="42" y="43" width="1" height="24" fill="#c21a1a" />
<rect x="99" y="67" width="1" height="40" fill="#b01010" />
<rect x="209" y="43" width="1" height="64" fill="#b01010" />
<rect x="158" y="43" width="1" height="24" fill="#e85a5a" />
<rect x="0" y="66" width="39" height="1" fill="#b51818" />
<rect x="0" y="67" width="39" height="1" fill="#ee7070" />
<rect x="162" y="66" width="44" height="1" fill="#b51818" />
<rect x="162" y="67" width="44" height="1" fill="#ee7070" />
<rect x="45.5" y="43.5" width="110.5" height="21" fill="#fff" stroke="#a9aeb6" stroke-width="1"/>
<rect x="46.5" y="44.5" width="19.5" height="19" fill="url(#gb)" />
<rect x="135.5" y="44.5" width="19.5" height="19" fill="url(#gb)" />
<rect x="66" y="44" width="1" height="20" fill="#b4b8c0" />
<rect x="134.5" y="44" width="1" height="20" fill="#b4b8c0" />
<polygon points="53,52.3 58.4,52.3 55.7,55.2" fill="#4a66c8"/>
<polygon points="142.2,55.2 147.6,55.2 144.9,52.3" fill="#4a66c8"/>
<text transform="translate(130.6,57.2) scale(1.04,1)" font-size="11.5" fill="#000" text-anchor="end" >1.00</text>
<text transform="translate(3,58.8) scale(0.9,1)" font-size="12" fill="#fff" text-anchor="start" >SELL</text>
<text transform="translate(171.3,58.8) scale(0.9,1)" font-size="12" fill="#fff" text-anchor="start" >BUY</text>
<text transform="translate(7.2,97.8) scale(1.03,1)" font-size="12" fill="#fff" text-anchor="start" font-weight="bold" >26308</text>
<text transform="translate(117.3,97.8) scale(1.03,1)" font-size="12" fill="#fff" text-anchor="start" font-weight="bold" >26319</text>
<rect x="46" y="94.3" width="4.6" height="3.6" fill="#fff" />
<rect x="157.2" y="94.3" width="4.6" height="3.6" fill="#fff" />
<text transform="translate(53,97.8) scale(0.88,1)" font-size="33" fill="#fff" text-anchor="start" >5</text>
<text transform="translate(163,97.8) scale(0.88,1)" font-size="33" fill="#fff" text-anchor="start" >5</text>
</g>
<g clip-path="url(#ct)"><g>
<path d="M-1,-1 H7 L9,2 V9 H-1Z" fill="#fff" stroke="#8a8a8a" stroke-width="1"/>
<path d="M0,2.5 H6 M0,4.5 H6" stroke="#9a9a9a" stroke-width="1"/>
<path d="M5.3,5.300 H8.9 V8.800 H12.6 V12.400 H8.900 V16.500 H5.300 V12.400 H1.500 V8.800 H5.300Z" fill="#2fc62f" stroke="#1a9a1a" stroke-width="0.8"/>
<text x="15.7" y="9.7" font-size="12" letter-spacing="0.1" fill="#000" font-family="'Liberation Sans', 'Noto Sans CJK SC', sans-serif">新订单</text>
<path d="M70,-1 L79.5,7.5 L72,15 L64,8.5 Z" fill="#e2b02c" stroke="#a87a10" stroke-width="1"/>
<path d="M70.5,1 L77.5,7.3 L72,12.5" fill="none" stroke="#f7df86" stroke-width="1.2"/>
<path d="M72,15 L79.5,7.5 L79.5,9.5 L72.5,16Z" fill="#c9a24a"/>
<rect x="95" y="-1" width="10" height="11" fill="#3b8be6" stroke="#1c5fb8"/>
<rect x="99" y="2" width="5" height="2" fill="#dbe9fb"/>
<path d="M93.5,14.5 H106 a2.6,2.6 0 0 0 0,-5 a3.4,3.4 0 0 0 -6.2,-1.4 a2.6,2.6 0 0 0 -4.3,1.6 a2.5,2.5 0 0 0 -2,4.8Z" fill="#e9f1fb" stroke="#5b83c2" stroke-width="1"/>
<circle cx="128" cy="7" r="7.5" fill="none" stroke="#b9cdea" stroke-width="1.4"/>
<path d="M128,7 L128,14.8 A7.8,7.8 0 0 0 135.6,5Z" fill="#59b86a"/>
<circle cx="128" cy="7" r="4.6" fill="none" stroke="#5f89d6" stroke-width="1.3"/>
<circle cx="128" cy="7" r="1.8" fill="#2a52c9"/>
<path d="M128,7 V15" stroke="#2e9e42" stroke-width="1.3"/>
<path d="M148.5,5 L156,14.5 L163,6Z" fill="#f6d648" stroke="#d0a416" stroke-width="1"/>
<path d="M147,4.5 c2,-3 4,-2.5 5.5,-2.5 l0.8,-3 h4.5 l0.8,3 c2,0 4,0 5,2.5 c-4,2.6 -12.5,2.6 -16.600,0Z" fill="#5aa5e6" stroke="#2f78c0" stroke-width="0.8"/>
<circle cx="159.7" cy="10.9" r="4.4" fill="#e02a1c" stroke="#b5180e" stroke-width="0.8"/>
<rect x="158.2" y="9.4" width="3" height="3" fill="#fff"/>
<text x="168.3" y="9.7" font-size="12" letter-spacing="-0.25" fill="#000" font-family="'Liberation Sans', 'Noto Sans CJK SC', sans-serif">自动交易</text>
<rect x="223" y="0" width="1" height="17" fill="#a5a5a5"/>
<rect x="227" y="1" width="3" height="1" fill="#a8a8a8"/>
<rect x="227" y="3" width="3" height="1" fill="#a8a8a8"/>
<rect x="227" y="5" width="3" height="1" fill="#a8a8a8"/>
<rect x="227" y="7" width="3" height="1" fill="#a8a8a8"/>
<rect x="227" y="9" width="3" height="1" fill="#a8a8a8"/>
<rect x="227" y="11" width="3" height="1" fill="#a8a8a8"/>
<rect x="227" y="13" width="3" height="1" fill="#a8a8a8"/>
<rect x="227" y="15" width="3" height="1" fill="#a8a8a8"/>
<path d="M241.5,1 V15 M239,12.5 H252.5 M239.8,3 L241.5,0.8 L243.2,3 M250.5,10.8 L252.7,12.5 L250.5,14.2" stroke="#4d4d4d" stroke-width="1" fill="none"/>
<path d="M245.5,9.5 H247.5 V3 H249.5" stroke="#13a013" stroke-width="1.3" fill="none"/>
<rect x="261" y="0" width="1" height="17" fill="#a5a5a5"/>
<rect x="262" y="0" width="24.5" height="18" fill="#f9f9f9"/>
<path d="M269.5,1 V15 M267,12.5 H280.5 M267.8,3 L269.5,0.8 L271.2,3 M278.5,10.8 L280.7,12.5 L278.5,14.2" stroke="#4d4d4d" stroke-width="1" fill="none"/>
<path d="M275.5,-1 V10.5" stroke="#0e8a0e" stroke-width="1"/><rect x="273.5" y="1.5" width="4" height="7" fill="#27c427" stroke="#0e8a0e"/>
<path d="M297.5,1 V15 M295,12.5 H308.5 M295.8,3 L297.5,0.8 L299.2,3 M306.5,10.8 L308.7,12.5 L306.5,14.2" stroke="#4d4d4d" stroke-width="1" fill="none"/>
<path d="M296,9.5 C299,6 300.500,3.800 302.500,4.200 S 306,8 308,8.200" stroke="#1fa83a" stroke-width="1.3" fill="none"/>
<rect x="318" y="0" width="1" height="17" fill="#a5a5a5"/>
<path d="M336.6,8.8 L342.40000000000003,13.8" stroke="#d6aa2a" stroke-width="3" stroke-linecap="round"/>
<path d="M337.2,9 L342.6,13.6" stroke="#f3dc7c" stroke-width="1"/>
<circle cx="332.8" cy="5" r="5.3" fill="#d9ebfb" stroke="#3d7dcb" stroke-width="1.2"/>
<path d="M329.8,5 H335.8" stroke="#3a78b8" stroke-width="1.6"/>
<path d="M332.8,2 V8" stroke="#3a78b8" stroke-width="1.6"/>
<path d="M364.7,8.8 L370.5,13.8" stroke="#d6aa2a" stroke-width="3" stroke-linecap="round"/>
<path d="M365.29999999999995,9 L370.7,13.6" stroke="#f3dc7c" stroke-width="1"/>
<circle cx="360.9" cy="5" r="5.3" fill="#d9ebfb" stroke="#3d7dcb" stroke-width="1.2"/>
<path d="M357.9,5 H363.9" stroke="#3a78b8" stroke-width="1.6"/>
<rect x="383" y="-0.5" width="8" height="7.500" fill="#4caf1a"/>
<rect x="383" y="-0.5" width="8" height="2" fill="#2f8f0c"/>
<path d="M384.5,3.5 H389.5 M384.5,3.5 V6.0 M389.5,3.5 V6.0" stroke="#fff" stroke-width="1.2" fill="none"/>
<rect x="391.3" y="-0.5" width="8" height="7.500" fill="#2f63d8"/>
<rect x="391.3" y="-0.5" width="8" height="2" fill="#1845b8"/>
<path d="M392.8,3.5 H397.8 M392.8,3.5 V6.0 M397.8,3.5 V6.0" stroke="#fff" stroke-width="1.2" fill="none"/>
<rect x="383" y="7.2" width="8" height="7.500" fill="#2f63d8"/>
<rect x="383" y="7.2" width="8" height="2" fill="#1845b8"/>
<path d="M384.5,11.2 H389.5 M384.5,11.2 V13.7 M389.5,11.2 V13.7" stroke="#fff" stroke-width="1.2" fill="none"/>
<rect x="391.3" y="7.2" width="8" height="7.500" fill="#4caf1a"/>
<rect x="391.3" y="7.2" width="8" height="2" fill="#2f8f0c"/>
<path d="M392.8,11.2 H397.8 M392.8,11.2 V13.7 M397.8,11.2 V13.7" stroke="#fff" stroke-width="1.2" fill="none"/>
<rect x="408" y="0" width="1" height="17" fill="#a5a5a5"/>
<rect x="413" y="0" width="1" height="17" fill="#a5a5a5"/>
<rect x="414" y="0" width="24" height="18" fill="#f9f9f9"/>
<path d="M421.5,1 V15 M419,12.5 H432.5 M419.8,3 L421.5,0.8 L423.2,3 M430.5,10.8 L432.7,12.5 L430.5,14.2" stroke="#4d4d4d" stroke-width="1" fill="none"/>
<polygon points="426.3,3.500 426.3,9.500 430.300,6.500" fill="#8fe08f" stroke="#16a016" stroke-width="1"/>
<rect x="441" y="0" width="1" height="17" fill="#a5a5a5"/>
<rect x="442" y="0" width="24" height="18" fill="#f9f9f9"/>
<path d="M449.5,1 V15 M447,12.5 H460.5 M447.8,3 L449.5,0.8 L451.2,3 M458.5,10.8 L460.7,12.5 L458.5,14.2" stroke="#4d4d4d" stroke-width="1" fill="none"/>
<path d="M455.5,1 V10.8" stroke="#2b7bbf" stroke-width="1.2"/>
<path d="M461,6.500 H457 M459.3,4.300 L457,6.500 L459.3,8.700" stroke="#c2410c" stroke-width="1.2" fill="none"/>
<rect x="470" y="0" width="1" height="17" fill="#a5a5a5"/>
<path d="M480.5,-1 H488 L491,2 V12.5 H480.500Z" fill="#fdfdfd" stroke="#8a8a8a" stroke-width="1"/>
<path d="M482.5,3 V9" stroke="#7a7a3a" stroke-width="1"/>
<path d="M488.3,5.300 H491.900 V8.900 H495.800 V12.500 H491.900 V16.500 H488.300 V12.500 H484.200 V8.900 H488.300Z" fill="#2fc62f" stroke="#1a9a1a" stroke-width="0.8"/>
<polygon points="502,6.3 507.4,6.3 504.7,9" fill="#1a1a1a"/>
<circle cx="526" cy="6.7" r="7.2" fill="#fdfdfd" stroke="#1d6fd0" stroke-width="2.2"/>
<circle cx="526" cy="6.7" r="5.8" fill="none" stroke="#cfd8e6" stroke-width="0.8"/>
<path d="M526,2.5 V7 H529" stroke="#222" stroke-width="1.1" fill="none"/>
<polygon points="541,6.3 546.4,6.3 543.7,9" fill="#1a1a1a"/>
<rect x="557.5" y="-1" width="15" height="14" fill="#fff" stroke="#3a78c8" stroke-width="1.2"/>
<rect x="558" y="-1" width="14" height="2" fill="#5c9be0"/>
<path d="M558,7.500 H572" stroke="#7aa2d8" stroke-width="1"/>
<path d="M559.5,5.5 L562,5 L564,3.800 L566.5,5 L569,4.500 L571,3.500" stroke="#b5240f" stroke-width="1.3" fill="none"/>
<path d="M559.5,11 L562,10.300 L564,11 L567,8.800 L569,9.500 L571,11" stroke="#199a2c" stroke-width="1.3" fill="none"/>
<polygon points="580,6.3 585.4,6.3 582.7,9" fill="#1a1a1a"/>
<rect x="591" y="0" width="1" height="17" fill="#a5a5a5"/>
<rect x="595" y="1" width="3" height="1" fill="#a8a8a8"/>
<rect x="595" y="3" width="3" height="1" fill="#a8a8a8"/>
<rect x="595" y="5" width="3" height="1" fill="#a8a8a8"/>
<rect x="595" y="7" width="3" height="1" fill="#a8a8a8"/>
<rect x="595" y="9" width="3" height="1" fill="#a8a8a8"/>
<rect x="595" y="11" width="3" height="1" fill="#a8a8a8"/>
<rect x="595" y="13" width="3" height="1" fill="#a8a8a8"/>
<rect x="595" y="15" width="3" height="1" fill="#a8a8a8"/>
<rect x="601" y="0" width="1" height="17" fill="#a5a5a5"/>
<rect x="602" y="0" width="24.5" height="18" fill="#f9f9f9"/>
<path d="M609.3,-1 V10.2 L611.9,7.900 L614.3,13.300 L616,12.500 L613.700,7.300 L617,7.200Z" fill="#4a4a4a"/>
<path d="M641.5,0 V15 M634,7.500 H649" stroke="#4d4d4d" stroke-width="1.1"/><rect x="641" y="7" width="1" height="1" fill="#f0f0f0"/>
<rect x="658" y="0" width="1" height="17" fill="#a5a5a5"/>
<path d="M675.5,1.3 V13.8" stroke="#4d4d4d" stroke-width="1.2"/>
<path d="M697.8,7.500 H710" stroke="#4d4d4d" stroke-width="1.2"/>
<path d="M726,13.800 L738,1.800" stroke="#4d4d4d" stroke-width="1.2"/>
<path d="M751.5,8.500 L762,-1 M754,13 L765.500,2.500 M754,6 L756.500,11 M757,3.500 L759.500,8.500 M760,1 L762.500,6 M752.500,9.500 L753.500,12.500 M763,-1 L765,3.500" stroke="#4d4d4d" stroke-width="1.1" fill="none"/>
<text x="762.6" y="15.8" font-size="6.5" font-weight="bold" fill="#4d4d4d">E</text>
<path d="M780.6,0.5 H794" stroke="#4d4d4d" stroke-width="1" stroke-dasharray="1 1" shape-rendering="crispEdges"/>
<path d="M780.6,3.8 H794" stroke="#4d4d4d" stroke-width="1" stroke-dasharray="1 1" shape-rendering="crispEdges"/>
<path d="M780.6,7.7 H794" stroke="#4d4d4d" stroke-width="1" stroke-dasharray="1 1" shape-rendering="crispEdges"/>
<path d="M780.6,11.5 H794" stroke="#4d4d4d" stroke-width="1" stroke-dasharray="1 1" shape-rendering="crispEdges"/>
<text x="791" y="15.8" font-size="6.5" font-weight="bold" fill="#4d4d4d">F</text>
<text x="811.2" y="12" font-size="12.5" fill="#4d4d4d" stroke="#4d4d4d" stroke-width="0.35">A</text>
<rect x="838.5" y="1.5" width="11" height="12" fill="none" stroke="#4d4d4d" stroke-width="1" stroke-dasharray="1 1" shape-rendering="crispEdges"/>
<rect x="837.5" y="0" width="3" height="2" fill="#4d4d4d"/>
<text x="839.8" y="12" font-size="11" fill="#4d4d4d" stroke="#4d4d4d" stroke-width="0.3">T</text>
<polygon points="868.4,0.800 871.400,3.500 868.400,6.200 865.400,3.500" fill="#4d4d4d"/>
<polygon points="875.8,7.500 878.900,10.500 875.800,13.500 872.700,10.500" fill="#4d4d4d"/>
<path d="M866.5,7.500 L868.500,9.800 L873.500,4" stroke="#4d4d4d" stroke-width="1.3" fill="none"/>
<polygon points="885.8,6.3 891.1999999999999,6.3 888.5,9" fill="#1a1a1a"/>
<rect x="897" y="0" width="1" height="17" fill="#a5a5a5"/>
<rect x="900.5" y="1" width="3" height="1" fill="#a8a8a8"/>
<rect x="900.5" y="3" width="3" height="1" fill="#a8a8a8"/>
<rect x="900.5" y="5" width="3" height="1" fill="#a8a8a8"/>
<rect x="900.5" y="7" width="3" height="1" fill="#a8a8a8"/>
<rect x="900.5" y="9" width="3" height="1" fill="#a8a8a8"/>
<rect x="900.5" y="11" width="3" height="1" fill="#a8a8a8"/>
<rect x="900.5" y="13" width="3" height="1" fill="#a8a8a8"/>
<rect x="900.5" y="15" width="3" height="1" fill="#a8a8a8"/>
<rect x="1075" y="0" width="1" height="17" fill="#a5a5a5"/>
<rect x="1076" y="0" width="24" height="18" fill="#f9f9f9"/>
<text x="911.9000000000001" y="11.2" font-size="10.5" fill="#3c3c3c" textLength="13.9" lengthAdjust="spacingAndGlyphs">M1</text>
<text x="939.8000000000001" y="11.2" font-size="10.5" fill="#3c3c3c" textLength="13.7" lengthAdjust="spacingAndGlyphs">M5</text>
<text x="965.9000000000001" y="11.2" font-size="10.5" fill="#3c3c3c" textLength="18.9" lengthAdjust="spacingAndGlyphs">M15</text>
<text x="994.3000000000001" y="11.2" font-size="10.5" fill="#3c3c3c" textLength="18.7" lengthAdjust="spacingAndGlyphs">M30</text>
<text x="1025.2" y="11.2" font-size="10.5" fill="#3c3c3c" textLength="12.4" lengthAdjust="spacingAndGlyphs">H1</text>
<text x="1052.0" y="11.2" font-size="10.5" fill="#3c3c3c" textLength="13.2" lengthAdjust="spacingAndGlyphs">H4</text>
<text x="1081.4" y="11.2" font-size="10.5" fill="#3c3c3c" textLength="12.2" lengthAdjust="spacingAndGlyphs">D1</text>
<text x="1108.5" y="11.2" font-size="10.5" fill="#3c3c3c" textLength="15.2" lengthAdjust="spacingAndGlyphs">W1</text>
<text x="1135.4" y="11.2" font-size="10.5" fill="#3c3c3c" textLength="15.6" lengthAdjust="spacingAndGlyphs">MN</text>
<rect x="1158" y="0" width="1" height="17" fill="#a5a5a5"/>
<path d="M1625.800,7.800 L1621,12.200" stroke="#2a62cf" stroke-width="2.2" stroke-linecap="round"/>
<circle cx="1628.5" cy="4.8" r="3.6" fill="#f3f7fd" stroke="#2a62cf" stroke-width="1.6"/>
<ellipse cx="1661" cy="4" rx="6.5" ry="5" fill="#fafafa" stroke="#9a9a9a" stroke-width="1"/>
<path d="M1663,8.500 L1665.500,11 L1665,8" fill="#fafafa" stroke="#9a9a9a" stroke-width="0.8"/>
<ellipse cx="1652.5" cy="7.5" rx="5.5" ry="4.2" fill="#fdfdfd" stroke="#8f8f8f" stroke-width="1"/>
<path d="M1650,11 L1648.500,13.500 L1652,11.600" fill="#fdfdfd" stroke="#8f8f8f" stroke-width="0.8"/>
</g></g>
</svg>
</body></html>
